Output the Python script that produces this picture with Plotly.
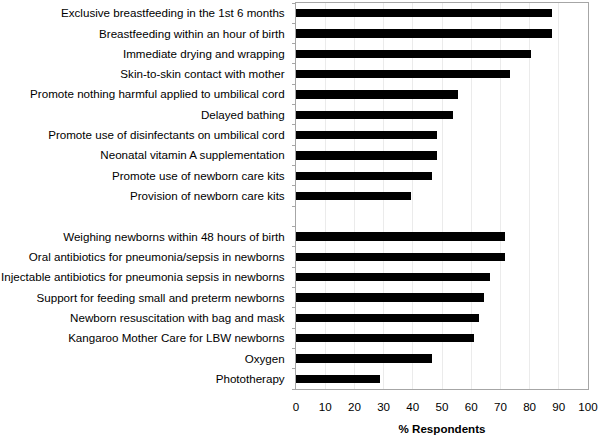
import plotly.graph_objects as go

group1 = [
    "Exclusive breastfeeding in the 1st 6 months",
    "Breastfeeding within an hour of birth",
    "Immediate drying and wrapping",
    "Skin-to-skin contact with mother",
    "Promote nothing harmful applied to umbilical cord",
    "Delayed bathing",
    "Promote use of disinfectants on umbilical cord",
    "Neonatal vitamin A supplementation",
    "Promote use of newborn care kits",
    "Provision of newborn care kits",
]
values1 = [87.6, 87.6, 80.6, 73.2, 55.6, 53.8, 48.3, 48.3, 46.5, 39.3]

group2 = [
    "Weighing newborns within 48 hours of birth",
    "Oral antibiotics for pneumonia/sepsis in newborns",
    "Injectable antibiotics for pneumonia sepsis in newborns",
    "Support for feeding small and preterm newborns",
    "Newborn resuscitation with bag and mask",
    "Kangaroo Mother Care for LBW newborns",
    "Oxygen",
    "Phototherapy",
]
values2 = [71.5, 71.5, 66.3, 64.5, 62.8, 60.9, 46.5, 28.8]

x_ticks = list(range(0, 101, 10))

# positions: group1, one empty slot, then group2
labels = group1 + group2
values = values1 + values2
pos = list(range(len(group1))) + [len(group1) + 1 + i for i in range(len(group2))]
n_slots = len(group1) + 1 + len(group2)

fig = go.Figure(go.Bar(
    x=values, y=pos, orientation="h",
    marker=dict(color="black", line=dict(width=0)),
    width=0.41,
))

font = "Liberation Sans, Arial, sans-serif"
fs = 11.6
frame = "#a6a6a6"
fig.update_layout(
    width=600, height=438,
    margin=dict(l=296, r=12, t=3, b=49),
    paper_bgcolor="white", plot_bgcolor="white",
    font=dict(family=font, size=fs, color="black"),
    showlegend=False,
    bargap=0,
)
fig.update_xaxes(
    range=[0, 100], tickvals=x_ticks, ticktext=[str(t) for t in x_ticks],
    showgrid=True, gridcolor="#ebebeb", gridwidth=1,
    showline=True, linecolor=frame, linewidth=1, mirror=True,
    ticks="", zeroline=False, automargin=False, ticklabelstandoff=7,
    title=dict(text="<b>% Respondents</b>", font=dict(size=fs), standoff=12),
    tickfont=dict(size=fs),
)
fig.update_yaxes(
    range=[n_slots - 0.5, -0.5],
    tickvals=pos, ticktext=labels,
    showgrid=False, zeroline=False, automargin=False,
    showline=True, linecolor=frame, linewidth=1, mirror=True,
    ticks="", ticklabelstandoff=8,
    minor=dict(tickvals=[i + 0.5 for i in range(-1, n_slots)], ticks="outside",
               ticklen=3, tickcolor=frame, showgrid=False),
    tickfont=dict(size=fs),
)

fig.write_html(
    "out.html",
    config={"displayModeBar": False},
    post_script="document.body.style.margin='0';document.body.style.overflow='hidden';",
)
